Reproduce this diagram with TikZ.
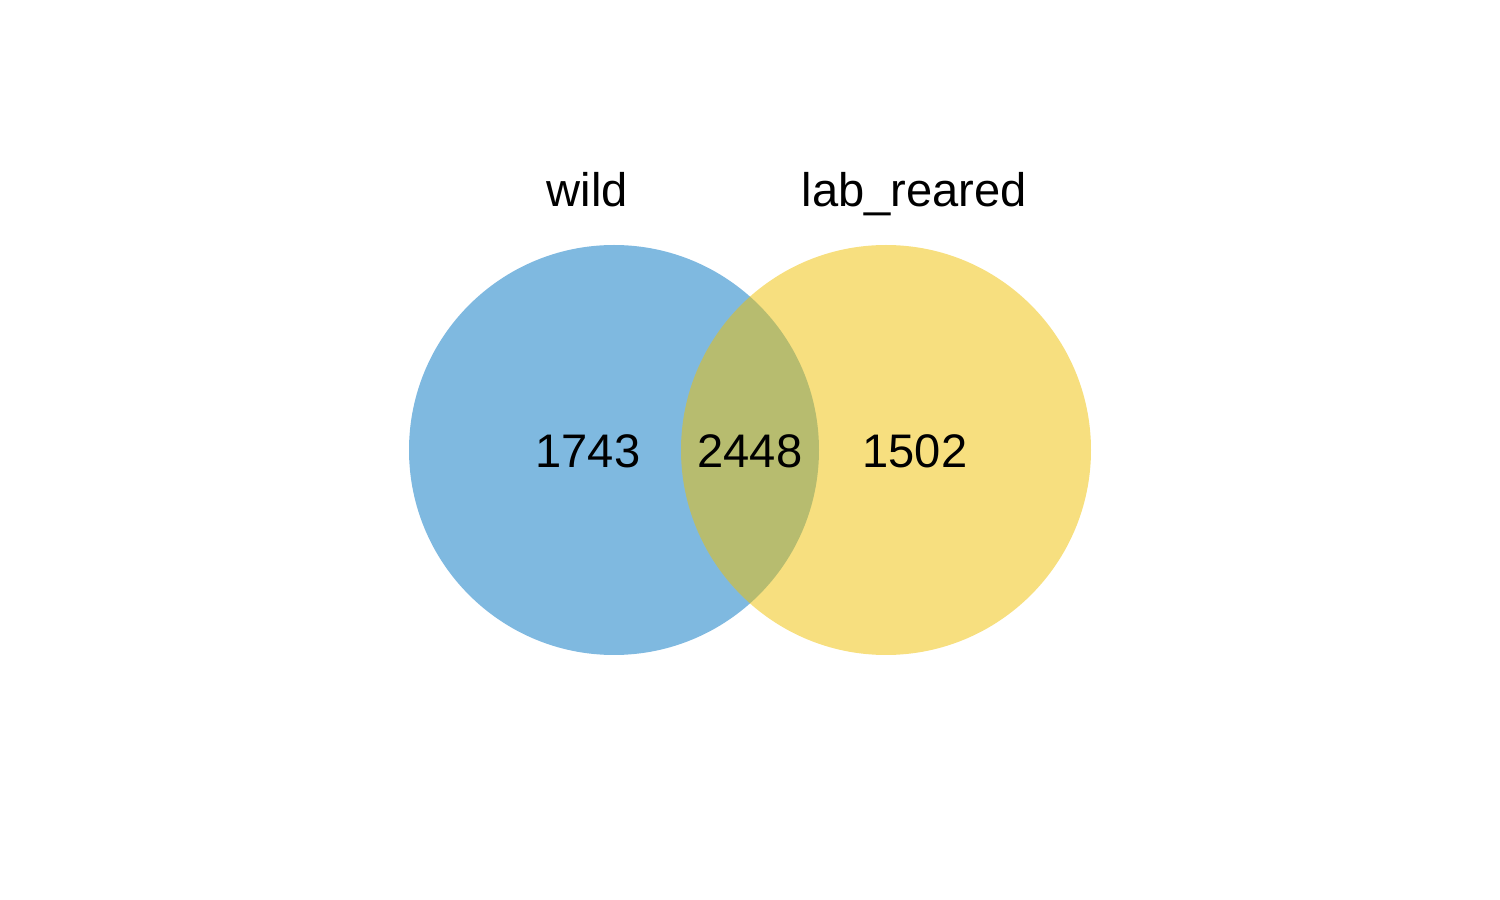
\documentclass[tikz,border=0pt]{standalone}
\usepackage{fontspec}
\setmainfont{Liberation Sans}
\usepackage{tikz}
\definecolor{jcoblue}{HTML}{0073C2}
\definecolor{jcoyellow}{HTML}{EFC000}
\tikzset{setlabel/.style={anchor=base, font=\fontsize{13.4}{16}\selectfont},
         countlabel/.style={anchor=base, font=\fontsize{13.4}{16}\selectfont}}
\begin{document}
\begin{tikzpicture}
\useasboundingbox (0,0) rectangle (15,9);
% the two sets
\fill[jcoblue, fill opacity=0.5] (6.14,4.5) circle (2.05);
\fill[jcoyellow, fill opacity=0.5] (8.86,4.5) circle (2.05);
% set names
\node[setlabel] (wild) at (5.875,6.93) {wild};
\node[setlabel] (lab) at (9.145,6.93) {lab\_reared};
% counts
\node[countlabel] (onlywild) at (5.88,4.32) {1743};
\node[countlabel] (both) at (7.50,4.32) {2448};
\node[countlabel] (onlylab) at (9.15,4.32) {1502};
\end{tikzpicture}
\end{document}
